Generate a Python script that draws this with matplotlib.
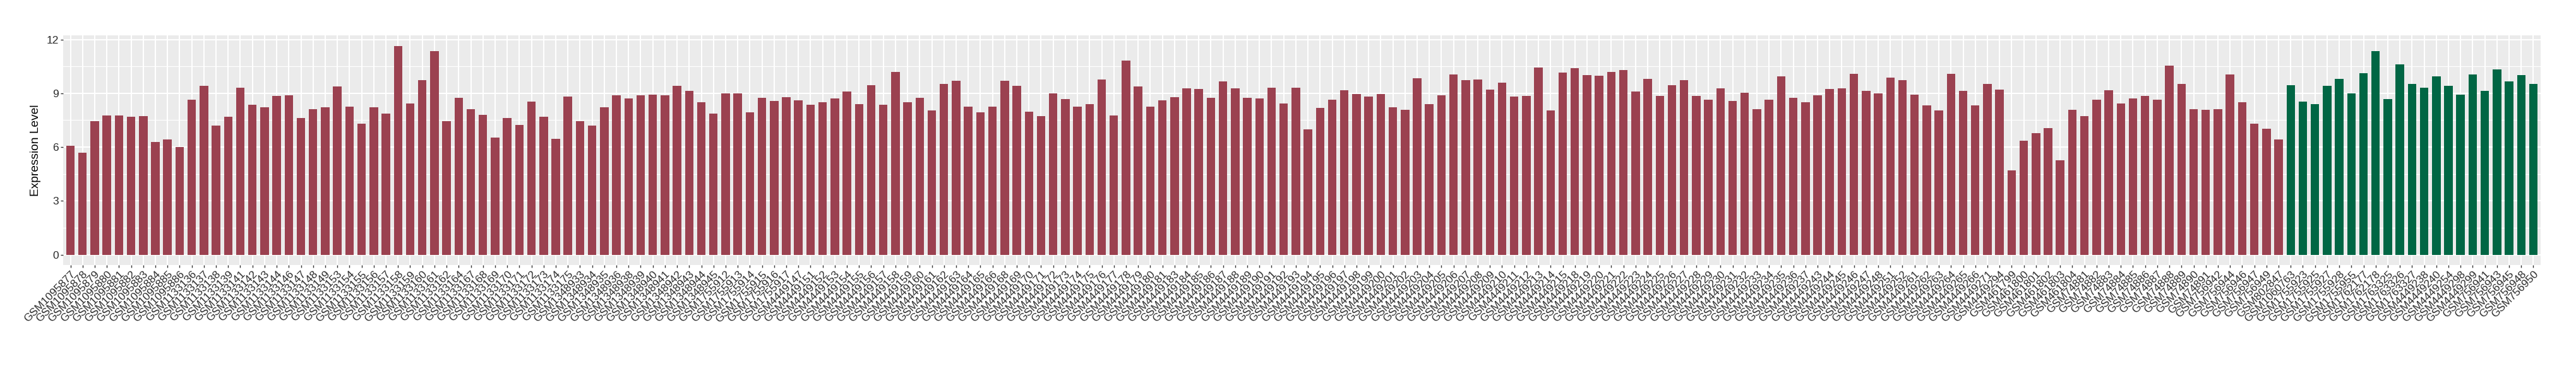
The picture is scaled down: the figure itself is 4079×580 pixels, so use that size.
import matplotlib
matplotlib.use("Agg")
import matplotlib.pyplot as plt
import numpy as np

# sample ids (grouped by GSM prefix) and expression values
ids_1095 = [877, 878, 879, 880, 881, 882, 883, 884, 885, 886]
ids_1133 = [136, 137, 138, 139, 141, 142, 143, 144, 146, 147, 148, 149, 153, 154,
            155, 156, 157, 158, 159, 160, 161, 162, 164, 167, 168, 169, 170, 171,
            172, 173, 174, 175]
ids_1348 = [933, 934, 935, 936, 938, 939, 940, 941, 942, 943, 944, 945]
ids_1755 = [912, 913, 914, 915, 916, 917]
ids_4449 = [147, 151, 152, 153, 154, 155, 156, 157, 158, 159, 160, 161, 162, 163,
            164, 165, 166, 168, 169, 170, 171, 172, 173, 174, 175, 176, 177, 178,
            179, 180, 181, 183, 184, 185, 186, 187, 188, 189, 190, 191, 192, 193,
            194, 195, 196, 197, 198, 199, 200, 201, 202, 203, 204, 205, 206, 207,
            208, 209, 210, 211, 212, 213, 214, 215, 218, 219, 220, 221, 222, 223,
            224, 225, 226, 227, 228, 229, 230, 231, 232, 233, 234, 235, 236, 237,
            243, 244, 245, 246, 247, 248, 251, 252, 261, 262, 263, 264, 265, 266,
            271, 294]
ids_4617 = [799, 800, 801, 802, 803, 804]
ids_748 = [81, 82, 83, 84, 85, 86, 87, 88, 89, 90, 91]
ids_7569 = [42, 44, 46, 47, 49]

red_labels = (["GSM1095" + str(i) for i in ids_1095]
              + ["GSM1133" + str(i) for i in ids_1133]
              + ["GSM1348" + str(i) for i in ids_1348]
              + ["GSM1755" + str(i) for i in ids_1755]
              + ["GSM4449" + str(i) for i in ids_4449]
              + ["GSM461" + str(i) for i in ids_4617]
              + ["GSM748" + str(i) for i in ids_748]
              + ["GSM7569" + str(i) for i in ids_7569]
              + ["GSM802847"])

red_values = [
    6.09, 5.69, 7.45, 7.77, 7.77, 7.69, 7.73, 6.27, 6.43, 5.99,
    8.65, 9.43, 7.21, 7.69, 9.33, 8.35, 8.21, 8.85, 8.89, 7.63, 8.13, 8.21, 9.37, 8.27,
    7.29, 8.21, 7.87, 11.65, 8.45, 9.75, 11.35, 7.45, 8.75, 8.11, 7.79, 6.53, 7.63, 7.25,
    8.55, 7.69, 6.47, 8.83,
    7.45, 7.21, 8.21, 8.89, 8.71, 8.89, 8.93, 8.89, 9.41, 9.13, 8.49, 7.87,
    8.99, 8.99, 7.93, 8.75, 8.59, 8.79,
    8.61, 8.37, 8.49, 8.71, 9.09, 8.41, 9.47, 8.35, 10.19, 8.49, 8.75, 8.03, 9.53, 9.71,
    8.27, 7.93, 8.27, 9.71, 9.43, 7.97, 7.73, 8.99, 8.69, 8.27, 8.41, 9.77, 7.77, 10.83,
    9.37, 8.25, 8.61, 8.79, 9.27, 9.23, 8.75, 9.67, 9.27, 8.75, 8.71, 9.33, 8.45, 9.33,
    6.99, 8.17, 8.65, 9.17, 8.95, 8.83, 8.95, 8.21, 8.07, 9.85, 8.41, 8.89, 10.05, 9.75,
    9.77, 9.19, 9.61, 8.83, 8.85, 10.43, 8.03, 10.15, 10.39, 10.01, 9.97, 10.19, 10.29, 9.09,
    9.81, 8.85, 9.47, 9.75, 8.85, 8.65, 9.29, 8.59, 9.03, 8.11, 8.65, 9.95, 8.75, 8.49,
    8.89, 9.23, 9.27, 10.09, 9.13, 8.99, 9.87, 9.75, 8.93, 8.31, 8.03, 10.09, 9.13, 8.31,
    9.51, 9.19,
    4.70, 6.37, 6.77, 7.05, 5.25, 8.07,
    7.73, 8.65, 9.17, 8.45, 8.71, 8.85, 8.65, 10.53, 9.51, 8.13, 8.07,
    8.11, 10.05, 8.51, 7.29, 7.01,
    6.41,
]

green_labels = ["GSM1060763", "GSM1755923", "GSM1755925", "GSM1755927", "GSM1755928",
                "GSM1755955", "GSM1762177", "GSM1762178", "GSM1763325", "GSM1763326",
                "GSM1763327", "GSM4449238", "GSM4449240", "GSM4449254", "GSM4449298",
                "GSM4449299", "GSM756941", "GSM756943", "GSM756945", "GSM756948",
                "GSM756950"]
green_values = [9.47, 8.55, 8.41, 9.43, 9.81, 8.99, 10.11, 11.35, 8.69, 10.63,
                9.51, 9.33, 9.95, 9.43, 8.93, 10.05, 9.13, 10.33, 9.67, 10.01, 9.51]

labels = red_labels + green_labels
values = red_values + green_values
colors = ["#9B4150"] * len(red_values) + ["#006644"] * len(green_values)

plt.rcParams["font.family"] = ["Liberation Sans", "DejaVu Sans"]

fig = plt.figure(figsize=(40.8, 5.8), dpi=100)
ax = fig.add_axes([100 / 4080, 1 - 420 / 580, 3923 / 4080, 364 / 580])

x = np.arange(len(values))
ax.set_facecolor("#EBEBEB")
ax.set_axisbelow(True)
ax.bar(x, values, width=0.7, color=colors, zorder=3)

ax.set_xlim(-0.6, len(values) - 0.4)
ax.set_ylim(-0.58, 12.235)
ax.set_yticks([0, 3, 6, 9, 12])
ax.set_yticks([1.5, 4.5, 7.5, 10.5], minor=True)
ax.set_xticks(x)
ax.set_xticklabels(labels, rotation=45, ha="right", va="top", rotation_mode="anchor")

ax.grid(which="major", color="white", linewidth=1.5)
ax.grid(which="minor", axis="y", color="white", linewidth=0.8)
for s in ax.spines.values():
    s.set_visible(False)
ax.tick_params(axis="both", which="major", length=3, width=1, color="#333333",
               labelcolor="#2b2b2b", labelsize=12.5, pad=2)
ax.tick_params(axis="y", which="minor", length=0)

ax.set_ylabel("Expression Level", fontsize=13.8, color="black", labelpad=6)

fig.savefig("out.png", dpi=100)
